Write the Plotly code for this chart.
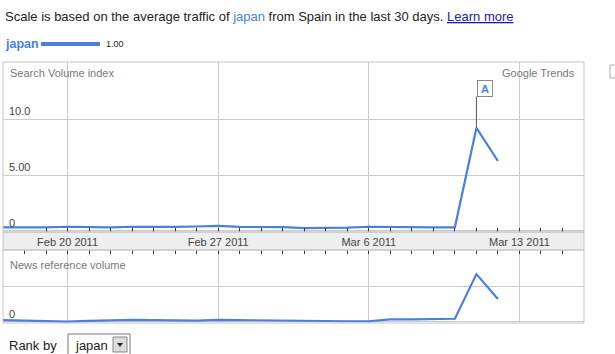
import plotly.graph_objects as go
import pandas as pd

W, H = 615, 354

dates = pd.date_range("2011-02-17", "2011-03-12", freq="D").strftime("%Y-%m-%d").tolist()
search_volume = [0.33, 0.30, 0.33, 0.38, 0.35, 0.32, 0.38, 0.36, 0.36, 0.40, 0.45, 0.36,
                 0.36, 0.35, 0.26, 0.25, 0.30, 0.38, 0.35, 0.33, 0.33, 0.33, 9.20, 6.25]
news_volume = [0.05, 0.03, 0.01, 0.01, 0.03, 0.05, 0.06, 0.05, 0.04, 0.04, 0.06, 0.05,
               0.04, 0.03, 0.03, 0.03, 0.02, 0.02, 0.07, 0.07, 0.08, 0.09, 1.33, 0.64]
week_ticks = ["2011-02-20", "2011-02-27", "2011-03-06", "2011-03-13"]
week_labels = ["Feb 20 2011", "Feb 27 2011", "Mar 6 2011", "Mar 13 2011"]
y_ticks = [0, 5, 10]
y_labels = ["0", "5.00", "10.0"]
news_ticks = [0, 1]
news_labels = ["0", ""]
event_date = "2011-03-11"
event_value = 9.20

LINE = "#4a7fe0"
FONT = "Liberation Sans, Arial, sans-serif"
GRID = "#cccccc"
BORDER = "#c4c4c4"

def px(x):
    return x / W

def py(y):
    return 1 - y / H

L, R = 3, 584
T1, B1 = 62, 232
T2, B2 = 250, 323

fig = go.Figure()
fig.add_trace(go.Scatter(x=dates, y=search_volume, mode="lines",
                         line=dict(color=LINE, width=2.2), xaxis="x", yaxis="y",
                         hoverinfo="skip", showlegend=False))
fig.add_trace(go.Scatter(x=dates, y=news_volume, mode="lines",
                         line=dict(color=LINE, width=2.2), xaxis="x2", yaxis="y2",
                         hoverinfo="skip", showlegend=False))

xr = ["2011-02-17", "2011-03-16"]
fig.update_layout(
    width=W, height=H, margin=dict(l=0, r=0, t=0, b=0),
    paper_bgcolor="white", plot_bgcolor="white",
    font=dict(family=FONT, size=11, color="#444"),
    xaxis=dict(domain=[px(L), px(R)], range=xr, type="date",
               tickvals=week_ticks, ticktext=week_labels,
               showgrid=True, gridcolor=GRID, gridwidth=1,
               ticks="inside", ticklen=4, tickcolor="#333",
               minor=dict(ticks="inside", ticklen=4, tickcolor="#333", dtick=86400000,
                          showgrid=False),
               tickfont=dict(size=11, color="#444"), ticklabelstandoff=2,
               showline=False, zeroline=False, fixedrange=True),
    yaxis=dict(domain=[py(B1), py(T1)], range=[-0.09, 15.09],
               tickvals=y_ticks, ticktext=y_labels, ticklabelposition="inside top",
               showgrid=True, gridcolor=GRID, ticks="", tickfont=dict(size=11, color="#444"),
               zeroline=False, showline=False, fixedrange=True, ticklabelstandoff=3),
    xaxis2=dict(domain=[px(L), px(R)], range=xr, type="date", side="top", anchor="y2",
                tickvals=week_ticks, showticklabels=False,
                showgrid=True, gridcolor=GRID,
                ticks="inside", ticklen=4, tickcolor="#333",
                minor=dict(ticks="inside", ticklen=4, tickcolor="#333", dtick=86400000,
                           showgrid=False),
                showline=False, zeroline=False, fixedrange=True),
    yaxis2=dict(domain=[py(B2), py(T2)], range=[-0.028, 2.0], anchor="x2",
                tickvals=news_ticks, ticktext=news_labels, ticklabelposition="inside top",
                showgrid=True, gridcolor=GRID, ticks="", tickfont=dict(size=11, color="#444"),
                zeroline=False, showline=False, fixedrange=True, ticklabelstandoff=3),
)

shapes = []
# date band
shapes.append(dict(type="rect", xref="paper", yref="paper", x0=px(L), x1=px(R),
                   y0=py(T2), y1=py(B1), fillcolor="#eeeeee", line=dict(width=0), layer="below"))
shapes.append(dict(type="line", xref="paper", yref="paper", x0=px(L), x1=px(R),
                   y0=py(T2), y1=py(T2), line=dict(color=BORDER, width=1)))
shapes.append(dict(type="line", xref="paper", yref="paper", x0=px(L), x1=px(R),
                   y0=py(B1), y1=py(B1), line=dict(color=BORDER, width=1)))
# panel borders
for t, b in [(T1, B1), (T2, B2)]:
    shapes.append(dict(type="rect", xref="paper", yref="paper", x0=px(L), x1=px(R),
                       y0=py(b), y1=py(t), line=dict(color=BORDER, width=1),
                       fillcolor="rgba(0,0,0,0)"))
shapes.append(dict(type="line", xref="paper", yref="paper", x0=px(L), x1=px(L),
                   y0=py(B1), y1=py(T2), line=dict(color=BORDER, width=1)))
shapes.append(dict(type="line", xref="paper", yref="paper", x0=px(R), x1=px(R),
                   y0=py(B1), y1=py(T2), line=dict(color=BORDER, width=1)))
# event marker stem
shapes.append(dict(type="line", xref="x", yref="y", x0=event_date, x1=event_date,
                   y0=event_value, y1=12.0, line=dict(color="#555", width=1)))
# legend swatch
shapes.append(dict(type="line", xref="paper", yref="paper", x0=px(41), x1=px(100),
                   y0=py(44), y1=py(44), line=dict(color=LINE, width=4)))
# right-hand icon fragment
shapes.append(dict(type="rect", xref="paper", yref="paper", x0=px(610), x1=px(617),
                   y0=py(78), y1=py(65), line=dict(color="#aaa", width=1), fillcolor="white"))
# dropdown
shapes.append(dict(type="rect", xref="paper", yref="paper", x0=px(68), x1=px(130),
                   y0=py(356), y1=py(334), line=dict(color="#777", width=1), fillcolor="white"))
shapes.append(dict(type="rect", xref="paper", yref="paper", x0=px(113), x1=px(127),
                   y0=py(352), y1=py(337), line=dict(color="#888", width=1), fillcolor="#dcdcdc"))
shapes.append(dict(type="path", xref="paper", yref="paper",
                   path=f"M {px(117)} {py(343)} L {px(123)} {py(343)} L {px(120)} {py(347)} Z",
                   fillcolor="#222", line=dict(width=0)))
fig.update_layout(shapes=shapes)

ann = []
ann.append(dict(xref="paper", yref="paper", x=px(3), y=py(16), xanchor="left", yanchor="middle",
                showarrow=False, font=dict(size=13, color="#222", family=FONT),
                text=("Scale is based on the average traffic of "
                      "<span style='color:#4a7fe0'>japan</span> from Spain in the last 30 days. "
                      "<span style='color:#1a1aa6;text-decoration:underline'>Learn more</span>")))
ann.append(dict(xref="paper", yref="paper", x=px(3), y=py(44), xanchor="left", yanchor="middle",
                showarrow=False, font=dict(size=12.5, color=LINE, family=FONT), text="<b>japan</b>"))
ann.append(dict(xref="paper", yref="paper", x=px(104), y=py(44), xanchor="left", yanchor="middle",
                showarrow=False, font=dict(size=9, color="#222", family=FONT), text="1.00"))
ann.append(dict(xref="paper", yref="paper", x=px(8), y=py(73), xanchor="left", yanchor="middle",
                showarrow=False, font=dict(size=11, color="#777", family=FONT),
                text="Search Volume index"))
ann.append(dict(xref="paper", yref="paper", x=px(577), y=py(73), xanchor="right", yanchor="middle",
                showarrow=False, font=dict(size=11, color="#777", family=FONT),
                text="Google Trends"))
ann.append(dict(xref="paper", yref="paper", x=px(8), y=py(265), xanchor="left", yanchor="middle",
                showarrow=False, font=dict(size=11, color="#777", family=FONT),
                text="News reference volume"))
ann.append(dict(xref="x", yref="y", x=event_date, y=12.0, xanchor="left", yanchor="bottom",
                xshift=1, showarrow=False, text="<b>A</b>",
                font=dict(size=11, color=LINE, family=FONT),
                bordercolor="#888", borderwidth=1, borderpad=1, bgcolor="white",
                width=12, height=13))
ann.append(dict(xref="paper", yref="paper", x=px(7), y=py(345), xanchor="left", yanchor="middle",
                showarrow=False, font=dict(size=13, color="#222", family=FONT), text="Rank by"))
ann.append(dict(xref="paper", yref="paper", x=px(73), y=py(345), xanchor="left", yanchor="middle",
                showarrow=False, font=dict(size=13, color="#222", family=FONT), text="japan"))
fig.update_layout(annotations=ann)

fig.write_html("out.html", config=dict(displayModeBar=False))
